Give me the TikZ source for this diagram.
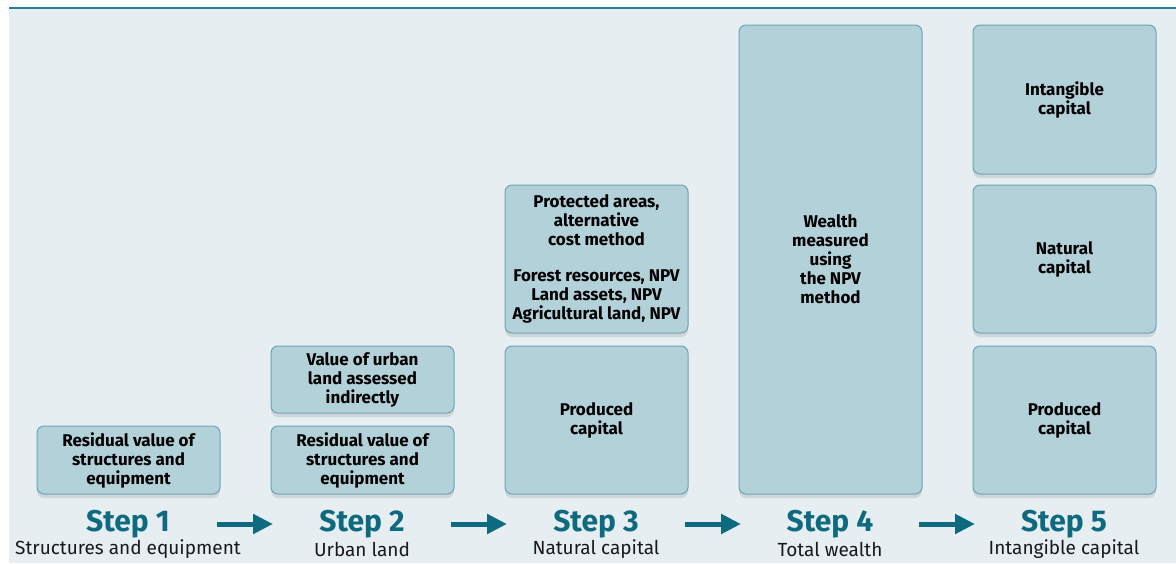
\documentclass[tikz,border=0pt]{standalone}
\usepackage{fontspec}
\setmainfont{Fira Sans}
\usetikzlibrary{arrows.meta,shadows}
\definecolor{panelbg}{HTML}{E6EEF1}
\definecolor{boxfill}{HTML}{B3D1D9}
\definecolor{boxline}{HTML}{6BA6B7}
\definecolor{stepteal}{HTML}{0E6A7F}
\definecolor{topline}{HTML}{2A7F93}
\begin{document}
\begin{tikzpicture}[x=1pt,y=-1pt,
  box/.style={draw=boxline,fill=boxfill,line width=1pt,rounded corners=7pt,
    minimum width=183pt,inner sep=0pt,align=center,text=black,
    font=\bfseries\fontsize{17}{19}\selectfont,
    drop shadow={opacity=0.22,shadow xshift=0pt,shadow yshift=-4pt}},
  steplbl/.style={text=stepteal,font=\bfseries\fontsize{30}{32}\selectfont,inner sep=0pt},
  subtxt/.style={text=black!90,font=\fontsize{19}{21}\selectfont,inner sep=0pt},
  steparrow/.style={draw=stepteal,line width=5pt,
    -{Triangle[length=20pt,width=19pt]},shorten <=89pt,shorten >=89pt}]
\useasboundingbox (0,0) rectangle (1176,563);
\fill[panelbg] (9,9) rectangle (1176,563);
\draw[topline,line width=2pt] (9,8) -- (1176,8);
% boxes
\node[box,minimum height=68pt] (b1) at (128.5,460) {Residual value of\\structures and\\equipment};
\node[box,minimum height=67pt] (b2a) at (362.5,379.5) {Value of urban\\land assessed\\indirectly};
\node[box,minimum height=68pt] (b2b) at (362.5,460) {Residual value of\\structures and\\equipment};
\node[box,minimum height=148pt] (b3a) at (596.5,259) {Protected areas,\\alternative\\cost method\\[17pt]Forest resources, NPV\\Land assets, NPV\\Agricultural land, NPV};
\node[box,minimum height=148pt] (b3b) at (596.5,420) {Produced\\capital};
\node[box,minimum height=469pt] (b4) at (830.5,259.5) {Wealth\\measured\\using\\the NPV\\method};
\node[box,minimum height=149pt] (b5a) at (1064.5,99.5) {Intangible\\capital};
\node[box,minimum height=148pt] (b5b) at (1064.5,259) {Natural\\capital};
\node[box,minimum height=148pt] (b5c) at (1064.5,420) {Produced\\capital};
% step labels
\node[steplbl] (l1) at (128,524) {Step 1};
\node[steplbl] (l2) at (362,524) {Step 2};
\node[steplbl] (l3) at (596,524) {Step 3};
\node[steplbl] (l4) at (830,524) {Step 4};
\node[steplbl] (l5) at (1064,524) {Step 5};
\node[subtxt] (t1) at (128,549) {Structures and equipment};
\node[subtxt] (t2) at (362,549) {Urban land};
\node[subtxt] (t3) at (596,549) {Natural capital};
\node[subtxt] (t4) at (830,549) {Total wealth};
\node[subtxt] (t5) at (1064,549) {Intangible capital};
\draw[steparrow] (l1.center) -- (l2.center);
\draw[steparrow] (l2.center) -- (l3.center);
\draw[steparrow] (l3.center) -- (l4.center);
\draw[steparrow] (l4.center) -- (l5.center);
\end{tikzpicture}
\end{document}
